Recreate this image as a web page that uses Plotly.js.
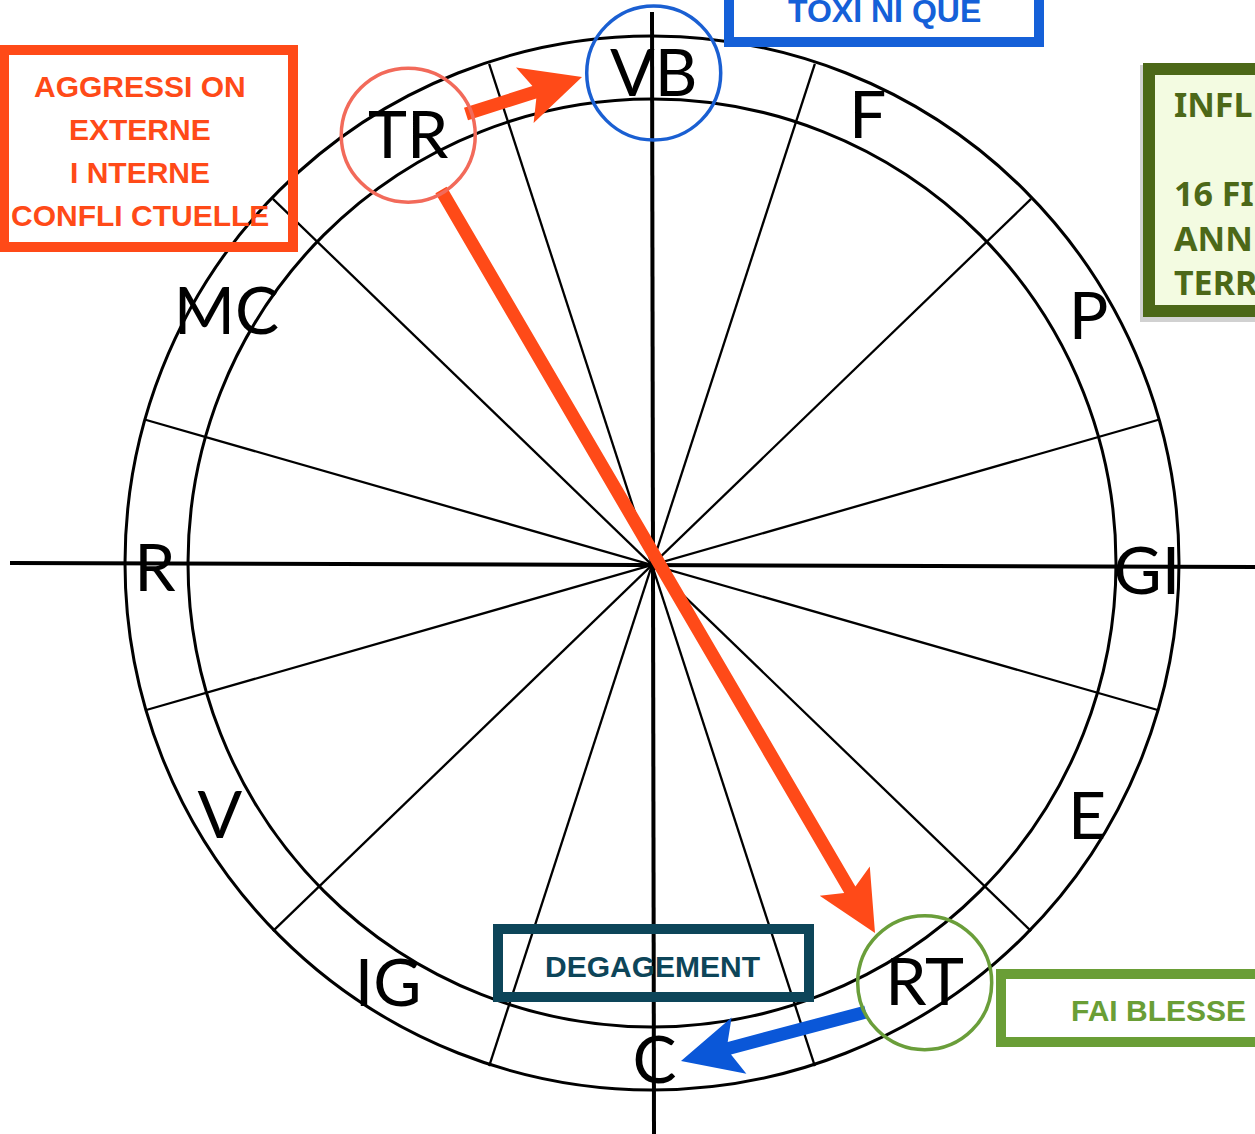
<!DOCTYPE html>
<html><head><meta charset="utf-8">
<script src="https://cdn.plot.ly/plotly-3.0.1.min.js"></script>
<style>html,body{margin:0;padding:0;background:#fff;overflow:hidden}#chart{width:1255px;height:1134px}</style>
</head><body><div id="chart"></div>
<script>
// ---- Wheel data ----
const ringLabels  = ['VB','F','P','GI','E','RT','C','IG','V','R','MC','TR'];
const ringAngles  = [89.8, 64.4, 29.8, -0.6, -29.9, -56.8, -89.7, -122.3, -150, 180.3, 149.1, 119.5];
const ringLabelR  = [493, 499, 503, 495, 502, 498, 495, 494, 499, 497, 496, 495];
const spokeAngles = [16, 44, 72, 108, 136, 164];
const ringRadii   = [527, 464];
const wheelCenter = [652, 565];

// Highlighted sectors
const highlighted     = ['TR','VB','RT'];
const highlightColors = ['#F26A5A','#1A5FD2','#6A9E3A'];

// Arrows (start -> tip)
const arrowNames  = ['TR→VB','TR→RT','RT→C'];
const arrowStart  = [[466,114],[441,190],[866,1012]];
const arrowTip    = [[582,77],[875,933],[681,1061]];
const arrowColors = ['#FF4A18','#FF4A18','#0A57D8'];

// Text boxes
const boxNames  = ['AGGRESSION','TOXINIQUE','INFL','DEGAGEMENT','FAIBLESSE'];
const boxRects  = [[4,50,293,247],[729,-20,1039,42],[1149,69,1300,311],[498,929,809,997],[1001,974,1262,1042]];
const boxColors = ['#FF4A18','#1560D8','#4C6818','#0D4559','#6A9E36'];
const boxLines  = [
  ['AGGRESSI ON','EXTERNE','I NTERNE','CONFLI CTUELLE'],
  ['TOXI NI QUE'],
  ['INFL','','16 FI','ANN','TERR'],
  ['DEGAGEMENT'],
  ['FAI BLESSE']
];
const boxTextX  = [140, 884, 1172, 652, 1158];
const boxTextY0 = [86, 11, 104, 966, 1010];
const boxLineGap= [43, 0, 44.5, 0, 0];
const boxFontSz = [30, 32, 34, 30, 30];

// ---- Build ----
const [cx, cy] = wheelCenter;
const rad = a => a*Math.PI/180;
const shapes = [];
const annotations = [];

// ring circles
ringRadii.forEach(r => shapes.push({type:'circle', layer:'below', xref:'x', yref:'y',
  x0:cx-r, x1:cx+r, y0:cy-2-r, y1:cy-2+r, line:{color:'#000', width:3}}));

// spokes
const R = ringRadii[0];
spokeAngles.forEach(a => shapes.push({type:'line', layer:'below', xref:'x', yref:'y',
  x0:cx+R*Math.cos(rad(a)), y0:cy-R*Math.sin(rad(a)),
  x1:cx-R*Math.cos(rad(a)), y1:cy+R*Math.sin(rad(a)), line:{color:'#000', width:2.3}}));

// main axes
shapes.push({type:'line', layer:'below', xref:'x', yref:'y', x0:10, y0:563, x1:1255, y1:567, line:{color:'#000', width:4}});
shapes.push({type:'line', layer:'below', xref:'x', yref:'y', x0:652, y0:12, x1:654, y1:1134, line:{color:'#000', width:4}});

// boxes
boxRects.forEach((b,i) => {
  const isInfl = boxNames[i] === 'INFL';
  if (isInfl) {
    shapes.push({type:'rect', layer:'below', xref:'x', yref:'y', x0:b[0]-9, y0:b[1]-4, x1:b[2], y1:b[3]+11,
      fillcolor:'rgba(0,0,0,0.18)', line:{width:0}});
    shapes.push({type:'rect', layer:'below', xref:'x', yref:'y', x0:b[0], y0:b[1], x1:b[2], y1:b[3],
      fillcolor:'#F3FBE1', line:{color:boxColors[i], width:12}});
  } else {
    shapes.push({type:'rect', layer:'below', xref:'x', yref:'y', x0:b[0], y0:b[1], x1:b[2], y1:b[3],
      line:{color:boxColors[i], width:10}});
  }
  boxLines[i].forEach((t,k) => {
    if (!t) return;
    annotations.push({xref:'x', yref:'y', x:boxTextX[i], y:boxTextY0[i] + k*boxLineGap[i],
      text:t, showarrow:false, xanchor: isInfl ? 'left' : 'center', yanchor:'middle',
      font:{family: isInfl ? 'Noto Sans' : 'Liberation Sans', size: boxFontSz[i],
            color:boxColors[i], weight:'bold'}});
  });
});

// arrows as filled paths
const headLen = 60, headHalf = 29, notch = 10, shaftHalf = 6.5;
arrowStart.forEach((s,i) => {
  const t = arrowTip[i];
  let dx = t[0]-s[0], dy = t[1]-s[1];
  const L = Math.hypot(dx,dy); dx/=L; dy/=L;
  const nx = -dy, ny = dx;
  const j = [t[0]-dx*(headLen-notch), t[1]-dy*(headLen-notch)];
  const b = [t[0]-dx*headLen, t[1]-dy*headLen];
  const pts = [
    [s[0]+nx*shaftHalf, s[1]+ny*shaftHalf],
    [j[0]+nx*shaftHalf, j[1]+ny*shaftHalf],
    [b[0]+nx*headHalf, b[1]+ny*headHalf],
    t,
    [b[0]-nx*headHalf, b[1]-ny*headHalf],
    [j[0]-nx*shaftHalf, j[1]-ny*shaftHalf],
    [s[0]-nx*shaftHalf, s[1]-ny*shaftHalf]
  ];
  const path = 'M' + pts.map(p => p[0].toFixed(1)+','+p[1].toFixed(1)).join(' L') + ' Z';
  shapes.push({type:'path', layer:'below', xref:'x', yref:'y', path, fillcolor:arrowColors[i], line:{width:0}});
});

// label positions
const lx = ringAngles.map((a,i) => cx + ringLabelR[i]*Math.cos(rad(a)));
const ly = ringAngles.map((a,i) => cy - ringLabelR[i]*Math.sin(rad(a)));

// highlight circles
highlighted.forEach((h,i) => {
  const k = ringLabels.indexOf(h);
  const r = 67;
  shapes.push({type:'circle', layer:'below', xref:'x', yref:'y',
    x0:lx[k]-r, x1:lx[k]+r, y0:ly[k]+1-r, y1:ly[k]+1+r, line:{color:highlightColors[i], width:3.5}});
});

// glyph centring offset for the text trace (visual cap centre vs. anchor)
const textDy = 7;
const traces = [{
  type:'scatter', mode:'text', x:lx, y:ly.map(v => v + textDy), text:ringLabels,
  textposition:'middle center', textfont:{family:'Lato', size:66, color:'#000'},
  hoverinfo:'skip', showlegend:false, cliponaxis:false
}];

const layout = {
  width:1255, height:1134, margin:{l:0,r:0,t:0,b:0},
  paper_bgcolor:'#fff', plot_bgcolor:'#fff', showlegend:false,
  xaxis:{range:[0,1255], visible:false, fixedrange:true},
  yaxis:{range:[1134,0], visible:false, fixedrange:true},
  shapes, annotations
};
Plotly.newPlot('chart', traces, layout, {staticPlot:true, displayModeBar:false});
</script></body></html>
